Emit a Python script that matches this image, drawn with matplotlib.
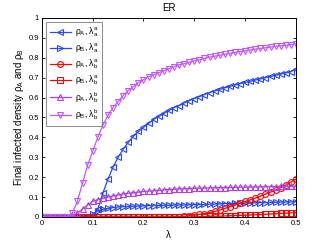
import numpy as np
import matplotlib
matplotlib.use("Agg")
import matplotlib.pyplot as plt

lam = [round(0.01 * i, 2) for i in range(51)]

rhoA_aa = [0, 0, 0, 0, 0, 0, 0, 0, 0, 0,
           0.005, 0.04, 0.12, 0.19, 0.25, 0.30, 0.34, 0.375, 0.405, 0.43,
           0.45, 0.47, 0.49, 0.505, 0.52, 0.535, 0.55, 0.56, 0.573, 0.585,
           0.595, 0.605, 0.615, 0.625, 0.633, 0.641, 0.649, 0.656, 0.663, 0.67,
           0.676, 0.682, 0.688, 0.694, 0.70, 0.706, 0.712, 0.718, 0.724, 0.73, 0.745]
rhoB_aa = [0, 0, 0, 0, 0, 0, 0, 0, 0, 0,
           0.015, 0.03, 0.038, 0.043, 0.047, 0.05, 0.052, 0.053, 0.054, 0.055,
           0.056, 0.057, 0.0575, 0.058, 0.0585, 0.059, 0.0595, 0.06, 0.0605, 0.061,
           0.0615, 0.062, 0.063, 0.064, 0.065, 0.066, 0.067, 0.0675, 0.068, 0.069,
           0.07, 0.0705, 0.071, 0.072, 0.0725, 0.073, 0.074, 0.075, 0.0755, 0.076, 0.077]
rhoA_ba = [0] * 26 + [0.001, 0.002, 0.003, 0.006, 0.01, 0.013, 0.017, 0.022, 0.028,
                      0.035, 0.043, 0.052, 0.062, 0.07, 0.078, 0.086, 0.095, 0.105,
                      0.115, 0.125, 0.135, 0.147, 0.16, 0.175, 0.19]
rhoB_ba = [0] * 30 + [0.001, 0.0015, 0.002, 0.003, 0.0035, 0.004, 0.005, 0.006, 0.007,
                      0.008, 0.009, 0.010, 0.011, 0.012, 0.0135, 0.015, 0.0165, 0.018,
                      0.019, 0.0205, 0.022]
rhoA_bb = [0, 0, 0, 0, 0, 0,
           0.005, 0.02, 0.04, 0.06, 0.078, 0.087, 0.094, 0.10, 0.106, 0.111, 0.115, 0.119, 0.122, 0.125,
           0.128, 0.13, 0.132, 0.134, 0.136, 0.138, 0.14, 0.141, 0.142, 0.143,
           0.144, 0.145, 0.1455, 0.146, 0.147, 0.1475, 0.148, 0.1485, 0.149, 0.1495,
           0.15, 0.1505, 0.151, 0.1515, 0.152, 0.1525, 0.153, 0.1535, 0.154, 0.1545, 0.155]
rhoB_bb = [0, 0, 0, 0, 0, 0,
           0.02, 0.08, 0.17, 0.26, 0.33, 0.40, 0.46, 0.51, 0.55, 0.58, 0.61, 0.635, 0.655, 0.675,
           0.69, 0.705, 0.715, 0.725, 0.735, 0.745, 0.755, 0.765, 0.77, 0.778,
           0.785, 0.79, 0.797, 0.803, 0.808, 0.813, 0.818, 0.822, 0.827, 0.831,
           0.835, 0.839, 0.843, 0.847, 0.85, 0.854, 0.857, 0.86, 0.863, 0.866, 0.869]

labels = [r'$\rho_A$, $\lambda_a^a$', r'$\rho_B$, $\lambda_a^a$',
          r'$\rho_A$, $\lambda_b^a$', r'$\rho_B$, $\lambda_b^a$',
          r'$\rho_A$, $\lambda_b^b$', r'$\rho_B$, $\lambda_b^b$']
series = [rhoA_aa, rhoB_aa, rhoA_ba, rhoB_ba, rhoA_bb, rhoB_bb]
colors = ['#2848ff', '#2848ff', '#ff0000', '#ff0000', '#b040e0', '#c058ff']
markers = ['<', '>', 'o', 's', '^', 'v']
xticks = [0, 0.1, 0.2, 0.3, 0.4, 0.5]
yticks = [0, 0.1, 0.2, 0.3, 0.4, 0.5, 0.6, 0.7, 0.8, 0.9, 1]

plt.rcParams['font.family'] = ['Liberation Sans', 'DejaVu Sans']
plt.rcParams['mathtext.fontset'] = 'custom'
plt.rcParams['mathtext.rm'] = 'Liberation Sans'
plt.rcParams['mathtext.it'] = 'Liberation Sans'

fig = plt.figure(figsize=(3.27, 2.46), dpi=100)
ax = fig.add_axes([0.128, 0.118, 0.777, 0.809])

for y, c, m, lab in zip(series, colors, markers, labels):
    ax.plot(lam, y, color=c, marker=m, ms=4.2, mfc='none', mew=0.8, lw=0.9, label=lab)

ax.set_xlim(0, 0.5)
ax.set_ylim(0, 1)
ax.set_xticks(xticks)
ax.set_xticklabels([f'{t:g}' for t in xticks])
ax.set_yticks(yticks)
ax.set_yticklabels([f'{t:g}' for t in yticks])
ax.tick_params(direction='in', length=2.5, width=0.6, labelsize=5.5, pad=2,
               top=True, right=True)
for s in ax.spines.values():
    s.set_linewidth(0.7)

ax.set_title('ER', fontsize=7, pad=5)
ax.set_xlabel(r'$\lambda$', fontsize=7, labelpad=1)
ax.set_ylabel(r'Final infected density $\rho_A$ and $\rho_B$', fontsize=7, labelpad=2)

leg = ax.legend(loc='upper left', fontsize=6.2, frameon=True, fancybox=False,
                edgecolor='#555555', borderaxespad=0.5, handlelength=2.5,
                handletextpad=0.4, labelspacing=0.3, borderpad=0.4)
leg.get_frame().set_linewidth(0.6)

fig.savefig('out.png', dpi=100)
